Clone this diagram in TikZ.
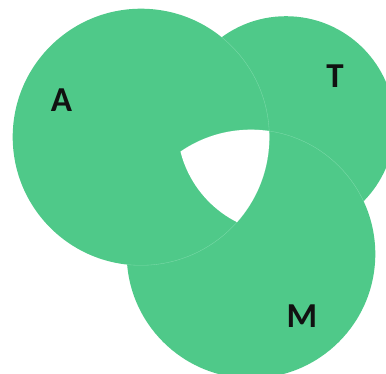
\documentclass[tikz,border=0pt]{standalone}
\usepackage{fontspec}
\setmainfont{Carlito}
\definecolor{venngreen}{RGB}{79,201,137}
\definecolor{seam}{RGB}{125,218,170}
\definecolor{ink}{RGB}{17,17,17}
\begin{document}
\begin{tikzpicture}[x=1pt,y=-1pt,
  setfill/.style={fill=venngreen},
  seamline/.style={draw=seam,line width=0.35pt},
  lbl/.style={font=\fontsize{35}{35}\selectfont\bfseries,text=ink,inner sep=0pt}]
\useasboundingbox (0,0) rectangle (386,373);
\clip (0,0) rectangle (386,373);
\def\circA{(141,137) circle[radius=128.3pt]}
\def\circT{(286,125) circle[radius=108.8pt]}
\def\circM{(251,254) circle[radius=124.3pt]}
% sets
\fill[setfill] \circT;
\fill[setfill] \circM;
\fill[setfill] \circA;
% seams
\begin{scope}
  \clip \circT;
  \draw[seamline] \circA;
  \draw[seamline] \circM;
\end{scope}
\begin{scope}
  \clip \circM;
  \draw[seamline] \circA;
\end{scope}
% triple intersection left blank
\begin{scope}
  \clip \circA;
  \clip \circT;
  \fill[white] \circM;
\end{scope}
% labels
\node[lbl] (labA) at (61.5,100) {A};
\node[lbl] (labT) at (335,76) {T};
\node[lbl] (labM) at (302,316) {M};
\end{tikzpicture}
\end{document}
